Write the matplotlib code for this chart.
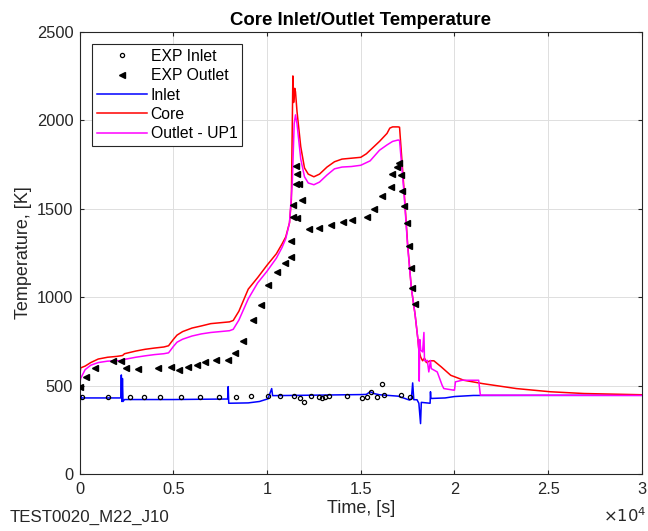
"""Core inlet/outlet temperature comparison, MATLAB-style."""

import matplotlib

matplotlib.use("Agg")

import matplotlib.pyplot as plt
from matplotlib.ticker import FuncFormatter

plt.rcParams["font.family"] = ["Liberation Sans", "DejaVu Sans"]

# --- experiment points -------------------------------------------------------
exp_inlet_t = [144, 1527, 2676, 3441, 4309, 5426, 6436, 7447, 8351, 9149,
               10035, 10710, 11452, 11771, 11950, 12340, 12784, 12950, 13085,
               13314, 14291, 15090, 15357, 15570, 15851, 16154, 16240, 17163,
               17624]
exp_inlet_T = [437, 438, 438, 438, 438, 438, 438, 438, 438, 440,
               440, 440, 440, 428, 405, 440, 437, 430, 438,
               440, 440, 431, 438, 462, 433, 510, 444, 444,
               438]

exp_outlet_t = [50, 372, 814, 1791, 2234, 2500, 3121, 4184, 4894, 5284, 5780,
                6277, 6702, 7287, 7908, 8298, 8741, 9273, 9681, 10071, 10532,
                10957, 11277, 11277, 11401, 11401, 11543, 11578, 11543, 11720,
                11844, 11620, 12252, 12784, 13404, 14078, 14557, 15357, 15710,
                16154, 16596, 16684, 16950, 17039, 17128, 17217, 17305, 17482,
                17571, 17660, 17748, 17872]
exp_outlet_T = [493, 549, 599, 637, 637, 599, 596, 599, 605, 586, 605,
                614, 633, 646, 642, 685, 751, 873, 957, 1067, 1144,
                1191, 1226, 1316, 1453, 1519, 1742, 1697, 1640, 1640,
                1547, 1449, 1384, 1392, 1410, 1425, 1438, 1453, 1500,
                1569, 1625, 1695, 1738, 1757, 1691, 1597, 1513, 1420,
                1288, 1167, 1054, 961]

# --- code results ------------------------------------------------------------
inlet_t = [0, 30, 60, 100, 2200, 2230, 2260, 2290, 2320, 2400, 5000, 7900,
           7930, 7960, 9000, 9600, 10050, 10250, 10300, 12000, 15000, 15300,
           15500, 15700, 16000, 17000, 17600, 17700, 17770, 17830, 18000,
           18100, 18190, 18230, 18700, 18720, 18740, 19500, 20000, 21000,
           30000]
inlet_T = [430, 390, 445, 430, 430, 560, 410, 540, 410, 421, 421, 424,
           494, 400, 402, 410, 425, 483, 443, 445, 449, 450,
           465, 455, 448, 440, 418, 425, 515, 420, 420,
           400, 285, 405, 400, 465, 427, 430, 438, 444,
           445]

core_t = [0, 60, 300, 600, 1000, 1500, 2000, 2300, 2400, 3000, 3500, 4000,
          4500, 4750, 5000, 5200, 5500, 6000, 6500, 7000, 7500, 8000, 8200,
          8500, 9000, 9500, 10000, 10500, 10800, 11000, 11200, 11300, 11380,
          11420, 11480, 11520, 11600, 11800, 12000, 12200, 12500, 12800,
          13200, 13600, 14000, 14500, 15000, 15300, 15600, 16000, 16400,
          16550, 16700, 17000, 17070, 17300, 17500, 17700, 17900, 18050,
          18100, 18200, 18300, 18400, 18500, 18700, 18900, 19300, 19800,
          20500, 21500, 23300, 25100, 26900, 30000]
core_T = [540, 600, 610, 630, 650, 660, 665, 670, 680, 695, 705, 712,
          718, 725, 760, 785, 805, 825, 837, 850, 855, 860, 868,
          920, 1045, 1110, 1180, 1245, 1300, 1340, 1420, 1550, 2250,
          2100, 2180, 2160, 2050, 1850, 1730, 1695, 1680, 1695,
          1735, 1765, 1780, 1785, 1790, 1810, 1840, 1880, 1925,
          1955, 1962, 1962, 1960, 1620, 1300, 1050, 900, 760,
          700, 660, 640, 655, 630, 640, 640, 605, 558,
          530, 511, 483, 465, 455, 448]

outlet_t = [0, 60, 300, 600, 1000, 1500, 2000, 2300, 2400, 3000, 3500, 4000,
            4500, 4750, 5000, 5200, 5500, 6000, 6500, 7000, 7500, 8000, 8200,
            8500, 9000, 9500, 10000, 10500, 10800, 11000, 11200, 11350, 11450,
            11520, 11600, 11800, 12000, 12200, 12500, 12800, 13200, 13600,
            14000, 14500, 15000, 15500, 16000, 16400, 16700, 17000, 17070,
            17300, 17500, 17700, 17900, 18050, 18100, 18120, 18150, 18200,
            18300, 18370, 18400, 18550, 18630, 18720, 18760, 19080, 19340,
            19430, 19960, 20000, 20050, 20410, 21290, 21380, 30000]
outlet_T = [500, 540, 590, 615, 630, 638, 640, 642, 648, 660, 668, 675,
            680, 685, 720, 745, 762, 780, 792, 800, 805, 810, 818,
            870, 990, 1080, 1146, 1220, 1280, 1330, 1420, 1650, 1980,
            2030, 1980, 1780, 1680, 1645, 1635, 1650, 1690, 1725,
            1735, 1738, 1745, 1770, 1830, 1860, 1880, 1888, 1885,
            1600, 1290, 1050, 900, 760, 700, 525, 760, 700,
            690, 800, 640, 642, 577, 642, 596, 577, 502,
            483, 474, 474, 521, 530, 530, 446, 444]

x_ticks = [0, 5000, 10000, 15000, 20000, 25000, 30000]
y_ticks = [0, 500, 1000, 1500, 2000, 2500]

INK = "#262626"

fig = plt.figure(figsize=(6.48, 5.31), dpi=100)
ax = fig.add_axes([0.1227, 0.1073, 0.868, 0.833])

l_inlet, = ax.plot(inlet_t, inlet_T, color="#0000ff", lw=1.1, label="Inlet")
l_core, = ax.plot(core_t, core_T, color="#ff0000", lw=1.1, label="Core")
l_out, = ax.plot(outlet_t, outlet_T, color="#ff00ff", lw=1.1,
                 label="Outlet - UP1")
m_in, = ax.plot(exp_inlet_t, exp_inlet_T, "o", ms=3, mfc="none", mec="black",
                mew=0.9, label="EXP Inlet", zorder=4)
m_out, = ax.plot(exp_outlet_t, exp_outlet_T, "<", ms=4.5, color="black",
                 label="EXP Outlet", zorder=4)

ax.set_xlim(0, 30000)
ax.set_ylim(0, 2500)
ax.set_xticks(x_ticks)
ax.set_yticks(y_ticks)
ax.xaxis.set_major_formatter(FuncFormatter(lambda v, _: f"{v / 1e4:g}"))
ax.tick_params(direction="in", length=3, labelsize=11.8, colors=INK,
               top=True, right=True)
ax.tick_params(axis="x", pad=6)
ax.tick_params(axis="y", pad=4.5)
ax.grid(True, color="#dedede", lw=0.7)
for sp in ax.spines.values():
    sp.set_color(INK)
    sp.set_linewidth(0.8)

ax.set_title("Core Inlet/Outlet Temperature", fontsize=13.4,
             fontweight="bold", pad=5)
ax.set_xlabel("Time, [s]", fontsize=13, color=INK, labelpad=2)
ax.set_ylabel("Temperature, [K]", fontsize=13, color=INK, labelpad=3)

leg = ax.legend(handles=[m_in, m_out, l_inlet, l_core, l_out],
                loc="upper left", bbox_to_anchor=(0.022, 0.972),
                fontsize=11.3, frameon=True, fancybox=False, framealpha=1,
                edgecolor=INK, handlelength=3.2, handletextpad=0.25,
                labelspacing=0.28, borderpad=0.3, borderaxespad=0)
leg.get_frame().set_linewidth(0.8)

fig.text(0.015, 0.011, "TEST0020_M22_J10", fontsize=12.2, color=INK,
         ha="left", va="bottom")
fig.text(0.997, 0.011, r"$\times10^4$", fontsize=11.8, color=INK,
         ha="right", va="bottom")

fig.savefig("out.png", dpi=100)
